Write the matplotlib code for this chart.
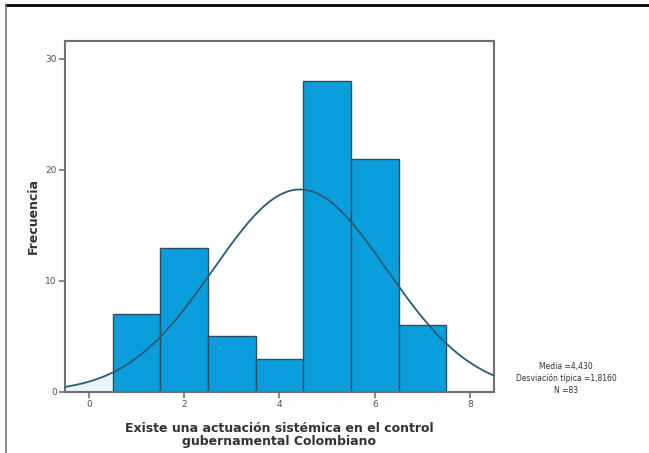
import numpy as np
import matplotlib
matplotlib.use("Agg")
import matplotlib.pyplot as plt
from matplotlib.lines import Line2D

# frequency per category (1..7)
categorias = [1, 2, 3, 4, 5, 6, 7]
frecuencias = [7, 13, 5, 3, 28, 21, 6]
media = 4.43
desv = 1.816
n_casos = 83

fig = plt.figure(figsize=(6.49, 4.53), dpi=100)
fig.patch.set_facecolor("#fdfdfd")

# outer frame of the output viewer
fig.add_artist(Line2D([0.009, 1.0], [0.988, 0.988], color="black", lw=2.0, transform=fig.transFigure))
fig.add_artist(Line2D([0.009, 0.009], [0.0, 0.988], color="#777777", lw=1.2, transform=fig.transFigure))

ax = fig.add_axes([0.1002, 0.1347, 0.6608, 0.7748])
ax.set_facecolor("white")

ax.bar(categorias, frecuencias, width=1.0, color="#0a9fdc", edgecolor="#2c4f60", linewidth=1.0, zorder=2)

# normal curve scaled to counts
x = np.linspace(-0.5, 8.5, 400)
y = n_casos * np.exp(-0.5 * ((x - media) / desv) ** 2) / (desv * np.sqrt(2 * np.pi))
m = x <= 0.5
ax.fill_between(x[m], 0, y[m], color="#eaf4fa", zorder=1)
ax.plot(x, y, color="#2b5c72", lw=1.3, zorder=3)

ax.set_xlim(-0.5, 8.5)
ax.set_ylim(0, 31.6)
ax.set_xticks([0, 2, 4, 6, 8])
ax.set_yticks([0, 10, 20, 30])
for s in ax.spines.values():
    s.set_color("#707070")
    s.set_linewidth(1.5)
ax.tick_params(axis="both", direction="out", length=4, width=1.2, color="#707070",
               labelsize=6.5, labelcolor="#555555", pad=2)

ax.set_ylabel("Frecuencia", fontsize=9, fontweight="bold", color="#333333", labelpad=4)
ax.set_xlabel("Existe una actuación sistémica en el control\ngubernamental Colombiano",
              fontsize=9, fontweight="bold", color="#333333", labelpad=9, linespacing=1.0)

fig.text(0.872, 0.165, "Media =4,430\nDesviación típica =1,8160\nN =83",
         ha="center", va="center", fontsize=5.5, color="#333333", linespacing=1.35)

fig.savefig("out.png", dpi=100, facecolor=fig.get_facecolor())
